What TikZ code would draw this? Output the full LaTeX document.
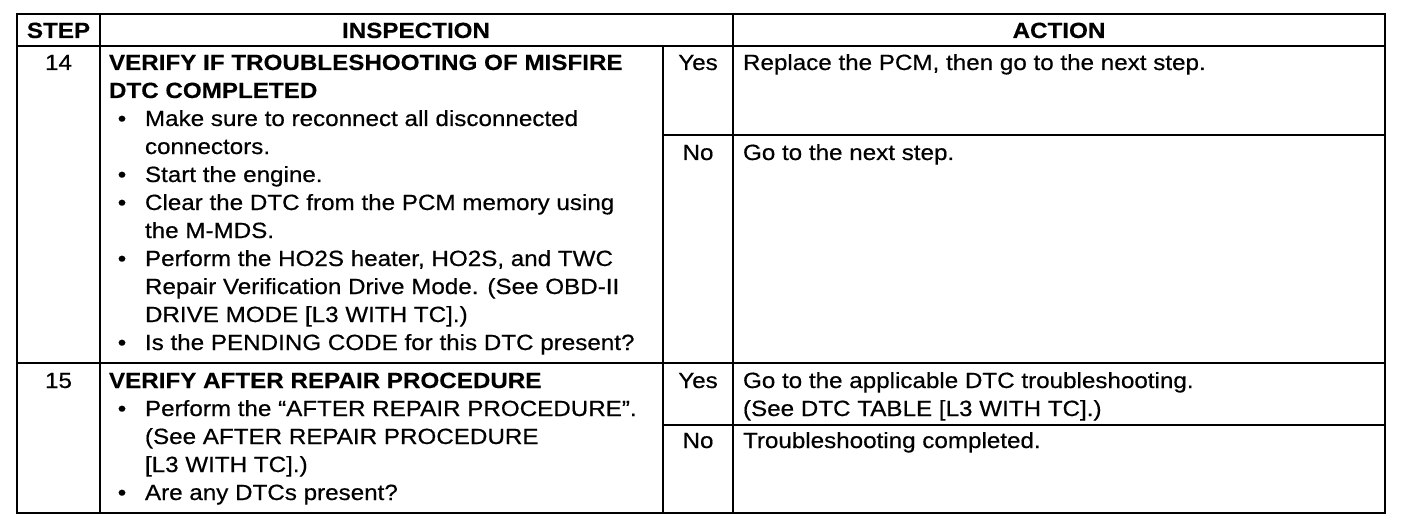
\documentclass[tikz,border=0pt]{standalone}
\usepackage{fontspec}
\setmainfont{Liberation Sans}[FakeStretch=1.1, FakeBold=0.5, BoldFeatures={FakeBold=0.3}]
\begin{document}
\begin{tikzpicture}[x=1pt,y=-1pt,
  every node/.style={inner sep=0pt, outer sep=0pt, font=\fontsize{22}{28}\selectfont},
  tl/.style={anchor=base west},
  tc/.style={anchor=base},
  hb/.style={anchor=base, font=\fontsize{22}{28}\selectfont\bfseries},
  bl/.style={anchor=base west, font=\fontsize{22}{28}\selectfont\bfseries},
  bul/.style={anchor=base, font=\fontsize{22}{28}\selectfont},
  outer/.style={line width=2.6pt},
  inner/.style={line width=2.1pt}]
\useasboundingbox (0,0) rectangle (1408,516);
% grid
\draw[outer] (17,14) rectangle (1385,513);
\draw[inner] (17,46) -- (1385,46);
\draw[inner] (100,14) -- (100,513);
\draw[inner] (663,46) -- (663,513);
\draw[inner] (733,14) -- (733,513);
\draw[inner] (17,363) -- (1385,363);
\draw[inner] (663,135) -- (1385,135);
\draw[inner] (663,425) -- (1385,425);
% header
\node[hb] (hstep) at (58.5,38) {STEP};
\node[hb] (hinsp) at (416,38) {INSPECTION};
\node[hb] (hact) at (1059,38) {ACTION};
% row 14
\node[tc] (s14) at (58.5,70) {14};
\node[bl] (t14a) at (109,70) {VERIFY IF TROUBLESHOOTING OF MISFIRE};
\node[bl] (t14b) at (109,98) {DTC COMPLETED};
\node[bul] (b14a) at (122,126) {\textbullet};
\node[tl] (l14a) at (145,126) {Make sure to reconnect all disconnected};
\node[tl] (l14b) at (145,154) {connectors.};
\node[bul] (b14b) at (122,182) {\textbullet};
\node[tl] (l14c) at (145,182) {Start the engine.};
\node[bul] (b14c) at (122,210) {\textbullet};
\node[tl] (l14d) at (145,210) {Clear the DTC from the PCM memory using};
\node[tl] (l14e) at (145,238) {the M-MDS.};
\node[bul] (b14d) at (122,266) {\textbullet};
\node[tl] (l14f) at (145,266) {Perform the HO2S heater, HO2S, and TWC};
\node[tl] (l14g) at (145,294) {Repair Verification Drive Mode. (See OBD-II};
\node[tl] (l14h) at (145,322) {DRIVE MODE [L3 WITH TC].)};
\node[bul] (b14e) at (122,350) {\textbullet};
\node[tl] (l14i) at (145,350) {Is the PENDING CODE for this DTC present?};
\node[tc] (y14) at (698,70) {Yes};
\node[tl] (a14y) at (743,70) {Replace the PCM, then go to the next step.};
\node[tc] (n14) at (698,160) {No};
\node[tl] (a14n) at (743,160) {Go to the next step.};
% row 15
\node[tc] (s15) at (58.5,388) {15};
\node[bl] (t15a) at (109,388) {VERIFY AFTER REPAIR PROCEDURE};
\node[bul] (b15a) at (122,416) {\textbullet};
\node[tl] (l15a) at (145,416) {Perform the “AFTER REPAIR PROCEDURE”.};
\node[tl] (l15b) at (145,444) {(See AFTER REPAIR PROCEDURE};
\node[tl] (l15c) at (145,472) {[L3 WITH TC].)};
\node[bul] (b15b) at (122,500) {\textbullet};
\node[tl] (l15d) at (145,500) {Are any DTCs present?};
\node[tc] (y15) at (698,388) {Yes};
\node[tl] (a15y) at (743,388) {Go to the applicable DTC troubleshooting.};
\node[tl] (a15y2) at (743,416) {(See DTC TABLE [L3 WITH TC].)};
\node[tc] (n15) at (698,448) {No};
\node[tl] (a15n) at (743,448) {Troubleshooting completed.};
\end{tikzpicture}
\end{document}
